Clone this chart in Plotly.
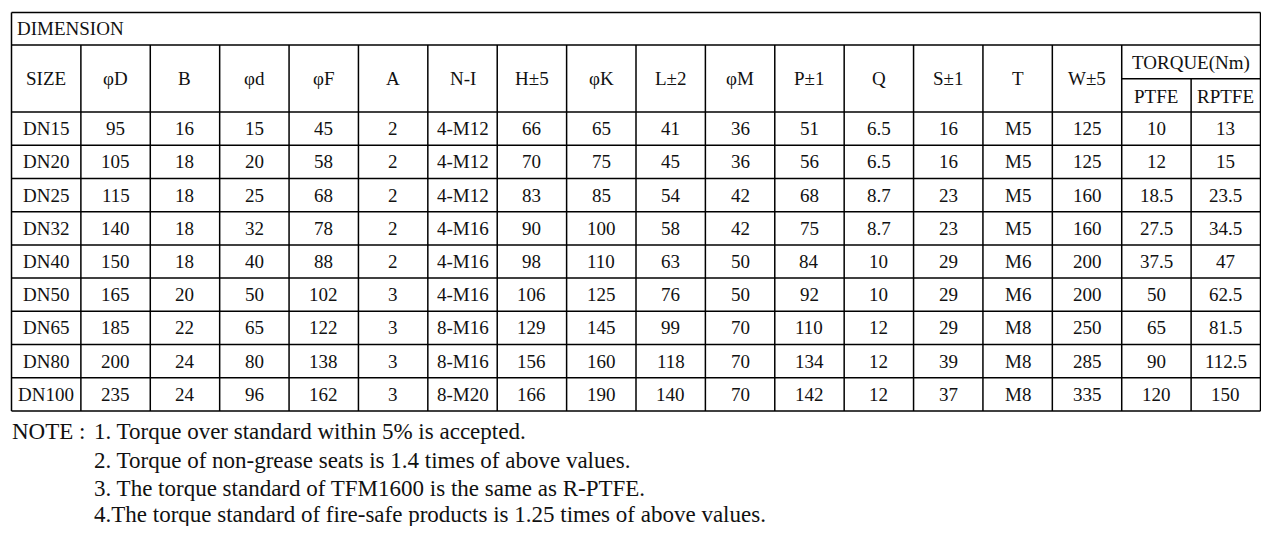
import plotly.graph_objects as go

# table contents
title = "DIMENSION"
headers = ["SIZE", "φD", "B", "φd", "φF", "A", "N-I", "H±5", "φK", "L±2",
           "φM", "P±1", "Q", "S±1", "T", "W±5"]
torque_head = "TORQUE(Nm)"
torque_sub = ["PTFE", "RPTFE"]

size = ["DN15", "DN20", "DN25", "DN32", "DN40", "DN50", "DN65", "DN80", "DN100"]
D = [95, 105, 115, 140, 150, 165, 185, 200, 235]
B = [16, 18, 18, 18, 18, 20, 22, 24, 24]
d = [15, 20, 25, 32, 40, 50, 65, 80, 96]
F = [45, 58, 68, 78, 88, 102, 122, 138, 162]
A = [2, 2, 2, 2, 2, 3, 3, 3, 3]
NI = ["4-M12", "4-M12", "4-M12", "4-M16", "4-M16", "4-M16", "8-M16", "8-M16", "8-M20"]
H = [66, 70, 83, 90, 98, 106, 129, 156, 166]
K = [65, 75, 85, 100, 110, 125, 145, 160, 190]
L = [41, 45, 54, 58, 63, 76, 99, 118, 140]
M = [36, 36, 42, 42, 50, 50, 70, 70, 70]
P = [51, 56, 68, 75, 84, 92, 110, 134, 142]
Q = ["6.5", "6.5", "8.7", "8.7", "10", "10", "12", "12", "12"]
S = [16, 16, 23, 23, 29, 29, 29, 39, 37]
T = ["M5", "M5", "M5", "M5", "M6", "M6", "M8", "M8", "M8"]
W = [125, 125, 160, 160, 200, 200, 250, 285, 335]
PTFE = ["10", "12", "18.5", "27.5", "37.5", "50", "65", "90", "120"]
RPTFE = ["13", "15", "23.5", "34.5", "47", "62.5", "81.5", "112.5", "150"]

note_label = "NOTE :"
notes = ["1. Torque over standard within 5% is accepted.",
         "2. Torque of non-grease seats is 1.4 times of above values.",
         "3. The torque standard of TFM1600 is the same as R-PTFE.",
         "4.The torque standard of fire-safe products is 1.25 times of above values."]

columns = [size, D, B, d, F, A, NI, H, K, L, M, P, Q, S, T, W, PTFE, RPTFE]

# geometry in page pixels (y grows downward)
left, right = 11.5, 1260.5
top, dim_bot, head_mid, head_bot, bottom = 12.5, 45, 78.7, 112, 411
ncol = len(columns)
nrow = len(size)
cw = (right - left) / ncol
rh = (bottom - head_bot) / nrow
xs = [left + i * cw for i in range(ncol + 1)]
ys = [head_bot + j * rh for j in range(nrow + 1)]

FONT = "'Liberation Serif', Tinos, 'Times New Roman', serif"
INK = "#111111"
LW = 1.5
PAD = 8  # body margin of the page

shapes = []


def line(x0, y0, x1, y1):
    shapes.append(dict(type="line", x0=x0, y0=y0, x1=x1, y1=y1,
                       xref="x", yref="y", line=dict(color="black", width=LW)))


# outer box and horizontal rules
line(left, top, right, top)
line(left, dim_bot, right, dim_bot)
line(xs[16], head_mid, right, head_mid)
for y in ys:
    line(left, y, right, y)
line(left, top, left, bottom)
line(right, top, right, bottom)
# vertical rules
for i in range(1, ncol):
    y0 = head_mid if i == 17 else dim_bot
    line(xs[i], y0, xs[i], bottom)

ann = []


def txt(x, y, s, size=19, anchor="center"):
    ann.append(dict(x=x, y=y, text=str(s), showarrow=False, xref="x", yref="y",
                    xanchor=anchor, yanchor="middle",
                    font=dict(family=FONT, size=size, color=INK)))


txt(left + 3, (top + dim_bot) / 2, title, size=19, anchor="left")
for i, h in enumerate(headers):
    txt((xs[i] + xs[i + 1]) / 2, (dim_bot + head_bot) / 2, h)
txt((xs[16] + xs[18]) / 2, (dim_bot + head_mid) / 2 + 1, torque_head)
for k, h in enumerate(torque_sub):
    txt((xs[16 + k] + xs[17 + k]) / 2, (head_mid + head_bot) / 2 + 1, h)

for i, col in enumerate(columns):
    for j, v in enumerate(col):
        txt((xs[i] + xs[i + 1]) / 2, (ys[j] + ys[j + 1]) / 2, v)

note_y = [431, 460, 488, 514]
txt(10, note_y[0], note_label, size=23, anchor="left")
for k, n in enumerate(notes):
    txt(92, note_y[k], n, size=23, anchor="left")

W_PX, H_PX = 1269, 534
fig = go.Figure()
fig.update_layout(
    width=W_PX - 2 * PAD, height=H_PX - 2 * PAD,
    margin=dict(l=0, r=0, t=0, b=0),
    paper_bgcolor="white", plot_bgcolor="white",
    shapes=shapes, annotations=ann,
    xaxis=dict(range=[PAD, W_PX - PAD], visible=False, fixedrange=True),
    yaxis=dict(range=[H_PX - PAD, PAD], visible=False, fixedrange=True),
    showlegend=False,
)
fig.write_html("out.html")
